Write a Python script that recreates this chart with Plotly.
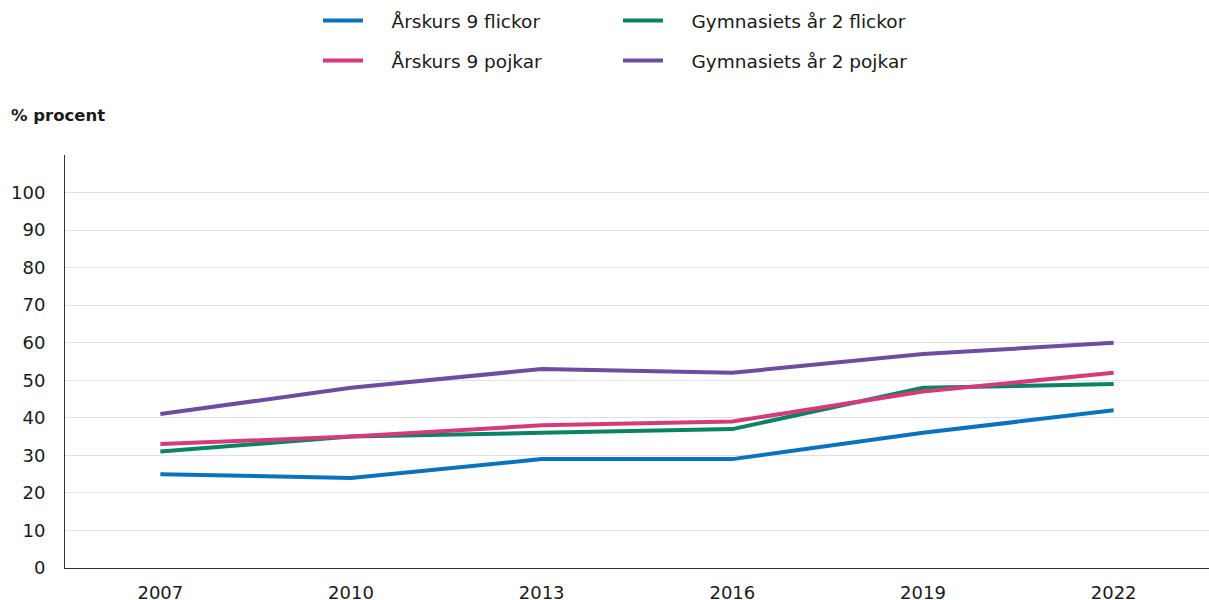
import plotly.graph_objects as go

years = ["2007", "2010", "2013", "2016", "2019", "2022"]
ak9_flickor = [25, 24, 29, 29, 36, 42]
ak9_pojkar = [33, 35, 38, 39, 47, 52]
gy2_flickor = [31, 35, 36, 37, 48, 49]
gy2_pojkar = [41, 48, 53, 52, 57, 60]

series = [
    ("Årskurs 9 flickor", ak9_flickor, "#0a73bd", "legend"),
    ("Gymnasiets år 2 flickor", gy2_flickor, "#0b8463", "legend"),
    ("Årskurs 9 pojkar", ak9_pojkar, "#d53b7b", "legend2"),
    ("Gymnasiets år 2 pojkar", gy2_pojkar, "#6e4c9f", "legend2"),
]

FONT = "DejaVu Sans"
FS = 18
TXT = "#1a1a1a"
PAD = "\u00a0" * 4

fig = go.Figure()
for name, vals, col, lg in series:
    fig.add_trace(go.Scatter(
        x=years, y=vals, name=PAD + name, mode="lines",
        line=dict(color=col, width=4), legend=lg,
    ))

leg_common = dict(
    orientation="h", xref="container", yref="container",
    xanchor="left", yanchor="middle",
    entrywidth=245, entrywidthmode="pixels",
    font=dict(family=FONT, size=18.5, color=TXT),
    itemwidth=40, bgcolor="rgba(0,0,0,0)",
)

fig.update_layout(
    width=1209, height=600,
    margin=dict(l=65, r=0, t=155, b=32, autoexpand=False),
    paper_bgcolor="white", plot_bgcolor="white",
    font=dict(family=FONT, size=FS, color=TXT),
    legend=dict(x=318/1209, y=1 - 21/600, **leg_common),
    legend2=dict(x=318/1209, y=1 - 61/600, **leg_common),
    showlegend=True,
    annotations=[dict(
        text="<b>% procent</b>", xref="paper", yref="paper",
        x=-56/1144, y=1.0, xanchor="left", yanchor="middle",
        yshift=40, showarrow=False,
        font=dict(family=FONT, size=16.5, color=TXT),
    )],
)

fig.update_xaxes(
    type="category", range=[-0.5, 5.5],
    showgrid=False, showline=True, linecolor="#333333", linewidth=1,
    ticks="", tickfont=dict(size=FS), ticklabelstandoff=8,
)
fig.update_yaxes(
    range=[0, 110], tickvals=list(range(0, 101, 10)),
    showgrid=True, gridcolor="#dde2e5", gridwidth=1,
    showline=True, linecolor="#333333", linewidth=1,
    zeroline=False, ticks="", tickfont=dict(size=FS), ticklabelstandoff=15,
)

fig.write_html("out.html", config={"displayModeBar": False},
               post_script="document.body.style.margin='0';")
